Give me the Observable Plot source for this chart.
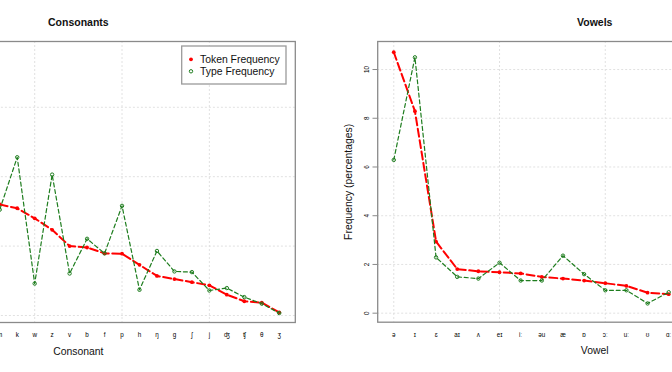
<!DOCTYPE html>
<html>
<head>
<meta charset="utf-8">
<script src="https://cdn.jsdelivr.net/npm/d3@7"></script>
<script src="https://cdn.jsdelivr.net/npm/@observablehq/plot@0.6"></script>
<style>
  html, body { margin: 0; padding: 0; background: #fff; }
  #chart { position: relative; width: 672px; height: 372px; overflow: hidden; font-family: "Liberation Sans", Arial, sans-serif; }
  #chart svg.p { position: absolute; top: 0; }
</style>
</head>
<body>
<div id="chart"></div>
<script>
// ---------- data (percentages) ----------
// Consonants (1-based position in the full ordering; the panel is cropped on the left)
const consonantStart = 8;
const consonants     = ["m", "k", "w", "z", "v", "b", "f", "p", "h", "ŋ", "g", "ʃ", "j", "ʤ", "ʧ", "θ", "ʒ"];
const consonantToken = [3.20, 3.09, 2.80, 2.47, 2.00, 1.96, 1.79, 1.78, 1.46, 1.14, 1.05, 0.96, 0.87, 0.60, 0.41, 0.37, 0.09];
const consonantType  = [3.05, 4.56, 0.92, 4.06, 1.21, 2.21, 1.79, 3.16, 0.74, 1.86, 1.27, 1.25, 0.72, 0.79, 0.53, 0.34, 0.07];
const consonantCount = 24;

// Vowels (panel is cropped on the right)
const vowelStart = 1;
const vowels     = ["ə", "ɪ", "ɛ", "aɪ", "ʌ", "eɪ", "iː", "əu", "æ", "ɒ", "ɔː", "uː", "ʊ", "ɑː"];
const vowelToken = [10.71, 8.29, 2.94, 1.81, 1.72, 1.68, 1.63, 1.49, 1.42, 1.34, 1.23, 1.12, 0.84, 0.78];
const vowelType  = [6.29, 10.50, 2.29, 1.49, 1.42, 2.07, 1.34, 1.34, 2.36, 1.60, 0.94, 0.94, 0.40, 0.86];
const vowelCount = 20;

const consonantYTicks = [0, 2, 4, 6];
const vowelYTicks     = [0, 2, 4, 6, 8, 10];
const consonantGridX  = [5, 10, 15, 20];
const vowelGridX      = [1, 6, 11, 16];

const titles = ["Consonants", "Vowels"];
const xLabels = ["Consonant", "Vowel"];
const yLabel = "Frequency (percentages)";
const seriesNames = ["Token Frequency", "Type Frequency"];

// ---------- styling ----------
const RED = "#ff0000";
const GREEN = "#1e7d1e";
const FONT = "Liberation Sans, Arial, Helvetica, sans-serif";

const consonantData = consonants.map((c, k) => ({i: k + consonantStart, label: c, token: consonantToken[k], type: consonantType[k]}));
const vowelData = vowels.map((v, k) => ({i: k + vowelStart, label: v, token: vowelToken[k], type: vowelType[k]}));

function panel(data, labels, start, count, yTicks, gridXs, yDomain, title, xLabel, opts) {
  const pad = 0.04 * (count - 1);
  const marks = [
    Plot.gridX(gridXs, {stroke: "#dedede", strokeOpacity: 1, strokeDasharray: "2,2", strokeWidth: 0.9}),
    Plot.gridY(yTicks, {stroke: "#dedede", strokeOpacity: 1, strokeDasharray: "2,2", strokeWidth: 0.9}),
    Plot.line(data, {x: "i", y: "token", stroke: RED, strokeWidth: 2, strokeDasharray: "8,3.5"}),
    Plot.dot(data, {x: "i", y: "token", fill: RED, r: 1.9}),
    Plot.line(data, {x: "i", y: "type", stroke: GREEN, strokeWidth: 1.2, strokeDasharray: "4,2.7"}),
    Plot.dot(data, {x: "i", y: "type", stroke: GREEN, fill: "none", r: 1.7, strokeWidth: 1}),
    Plot.frame({stroke: "#8a8a8a", strokeWidth: 1.3}),
    Plot.axisX({ticks: data.map(d => d.i), tickFormat: i => labels[i - start], tickSize: 0, tickPadding: 10, fontSize: 6.3, label: null}),
    Plot.text([title], {frameAnchor: "top", dy: -16, lineAnchor: "bottom", fontWeight: "bold", fontSize: 10.5, fill: "#111"}),
    Plot.text([xLabel], {frameAnchor: "bottom", dy: 32, lineAnchor: "bottom", fontSize: 10.4, fill: "#111"})
  ];
  if (opts.yAxis) {
    marks.push(Plot.axisY({ticks: yTicks, tickRotate: -90, tickSize: 4.7, tickPadding: 4.3, fontSize: 6.3, stroke: "#8a8a8a", label: null}));
    marks.push(Plot.text([yLabel], {frameAnchor: "left", dx: -26.2, rotate: -90, lineAnchor: "bottom", textAnchor: "middle", fontSize: 10.4, fill: "#111"}));
  }
  const p = Plot.plot({
    width: 495,
    height: 372,
    marginLeft: opts.marginLeft,
    marginRight: opts.marginRight,
    marginTop: 41,
    marginBottom: opts.marginBottom,
    style: {fontFamily: FONT, background: "transparent", maxWidth: "none", overflow: "visible"},
    x: {type: "linear", domain: [1 - pad, count + pad]},
    y: opts.yAxis ? {domain: yDomain} : {domain: yDomain, axis: null},
    marks
  });
  p.classList.add("p");
  p.style.left = opts.left + "px";
  return p;
}

const chart = document.getElementById("chart");
chart.appendChild(panel(consonantData, consonants, consonantStart, consonantCount, consonantYTicks, consonantGridX,
  [-0.202, 7.896], titles[0], xLabels[0], {left: -180, marginLeft: 40.9, marginRight: 20.2, marginBottom: 50, yAxis: false}));
chart.appendChild(panel(vowelData, vowels, vowelStart, vowelCount, vowelYTicks, vowelGridX,
  [-0.37, 11.15], titles[1], xLabels[1], {left: 336, marginLeft: 41.2, marginRight: 19.8, marginBottom: 50.3, yAxis: true}));

// ---------- legend (left panel) ----------
const ns = "http://www.w3.org/2000/svg";
const lg = document.createElementNS(ns, "svg");
lg.setAttribute("width", 110); lg.setAttribute("height", 44);
lg.style.position = "absolute"; lg.style.left = "179px"; lg.style.top = "43px";
lg.style.fontFamily = FONT;
function el(tag, attrs, text) {
  const e = document.createElementNS(ns, tag);
  for (const k in attrs) e.setAttribute(k, attrs[k]);
  if (text) e.textContent = text;
  lg.appendChild(e);
  return e;
}
el("rect", {x: 2.7, y: 3, width: 104.3, height: 38, fill: "#fff", stroke: "#9a9a9a", "stroke-width": 1.3});
el("circle", {cx: 12, cy: 16.3, r: 1.9, fill: RED});
el("circle", {cx: 12, cy: 28.3, r: 1.7, fill: "none", stroke: GREEN, "stroke-width": 1});
el("text", {x: 21, y: 20.4, "font-size": 10.4, fill: "#111"}, seriesNames[0]);
el("text", {x: 21, y: 32.4, "font-size": 10.4, fill: "#111"}, seriesNames[1]);
chart.appendChild(lg);
</script>
</body>
</html>
